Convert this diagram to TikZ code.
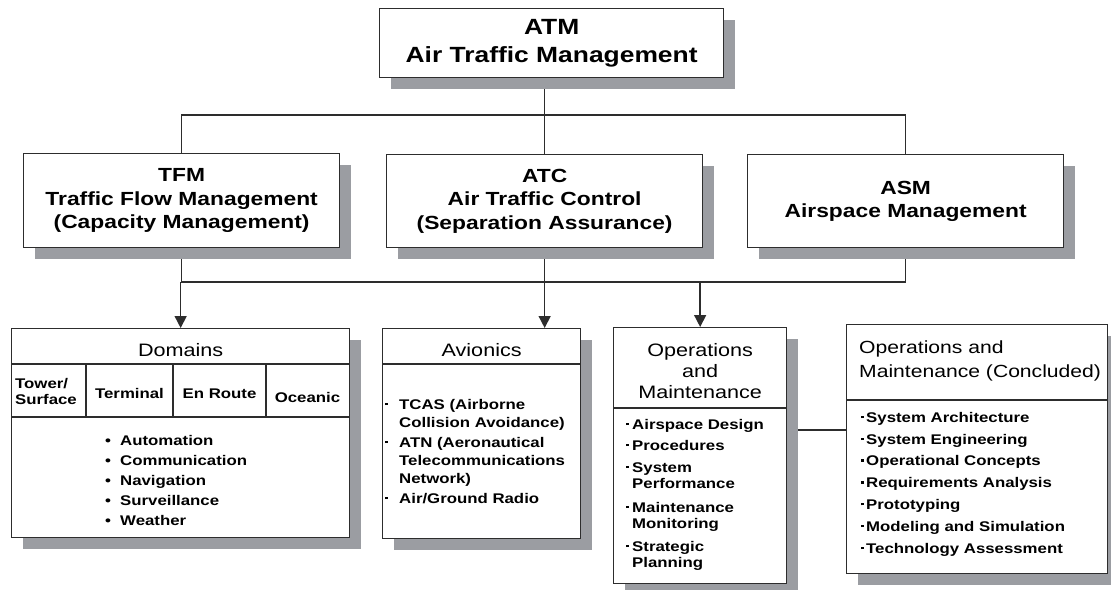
\documentclass[tikz,border=0pt]{standalone}
\usepackage{fontspec}
\setmainfont{Liberation Sans}[FakeStretch=1.2]
\usetikzlibrary{arrows.meta,shadows,backgrounds}
\definecolor{shadowgray}{RGB}{155,157,162}
\definecolor{linegray}{RGB}{45,45,45}
\newcommand{\itdot}[1]{\makebox[#1pt][l]{\rule[4pt]{2.4pt}{2.4pt}}}
\begin{document}
\begin{tikzpicture}[x=1pt, y=-1pt,
   box/.style={draw=linegray, line width=1.3pt, fill=white, inner sep=0pt, anchor=north west,
     drop shadow={shadow xshift=11pt, shadow yshift=-11pt, fill=shadowgray, opacity=1}},
   head/.style={align=center, font=\bfseries\fontsize{19}{23.5}\selectfont},
   ttl/.style={inner sep=0pt, font=\fontsize{18}{21}\selectfont},
   itm/.style={inner sep=0pt, align=left, font=\bfseries\fontsize{14}{20}\selectfont},
   link/.style={draw=linegray, line width=1.5pt},
   arr/.style={link, -{Triangle[length=12pt, width=12pt]}},
   rule/.style={draw=linegray, line width=1.3pt}]
   \useasboundingbox (0,0) rectangle (1111,589);
   \node[box, minimum width=344pt, minimum height=69pt, align=center,
     font=\bfseries\fontsize{22}{28}\selectfont] (atm) at (379,8) {ATM\\Air Traffic Management};
   \node[box, head, minimum width=316pt, minimum height=94pt] (tfm) at (23,153)
     {TFM\\Traffic Flow Management\\(Capacity Management)};
   \node[box, head, minimum width=316pt, minimum height=93pt] (atc) at (386,154)
     {ATC\\Air Traffic Control\\(Separation Assurance)};
   \node[box, head, minimum width=316pt, minimum height=93pt] (asm) at (747,154)
     {ASM\\Airspace Management};
   \node[box, minimum width=338pt, minimum height=209pt] (dom) at (11,328) {};
   \node[box, minimum width=198pt, minimum height=210pt] (avi) at (382,328) {};
   \node[box, minimum width=173pt, minimum height=256pt] (om) at (613,327) {};
   \node[box, minimum width=261pt, minimum height=249pt] (omc) at (846,324) {};
   \coordinate (top) at (0,115);
   \coordinate (bus) at (0,282);
   \begin{scope}[on background layer]
     \draw[link] (atm.south -| atc.north) -- (atc.north);
     \draw[link] (tfm.north) -- (tfm.north |- top) -- (asm.north |- top) -- (asm.north);
     \draw[link] (tfm.south) -- (tfm.south |- bus) -- (asm.south |- bus) -- (asm.south);
     \draw[arr] (atc.south) -- (atc.south |- avi.north);
     \draw[arr] (dom.north |- bus) -- (dom.north);
     \draw[arr] (om.north |- bus) -- (om.north);
     \draw[link, line width=2.5pt] (om.east |- 0,430) -- (omc.west |- 0,430);
   \end{scope}
   \draw[rule] (dom.west |- 0,364) -- (dom.east |- 0,364);
   \draw[rule] (dom.west |- 0,417) -- (dom.east |- 0,417);
   \foreach \x in {86,173,266}
     \draw[rule] (\x,364) -- (\x,417);
   \draw[rule] (avi.west |- 0,364) -- (avi.east |- 0,364);
   \draw[rule] (om.west |- 0,408) -- (om.east |- 0,408);
   \draw[rule] (omc.west |- 0,400) -- (omc.east |- 0,400);
   \node[ttl, anchor=base] at (dom.north |- 0,356) {Domains};
   \node[itm, anchor=base west, font=\bfseries\fontsize{14}{16}\selectfont] at (15,404) {Tower/\\Surface};
   \node[itm, anchor=base] at (129.5,398) {Terminal};
   \node[itm, anchor=base] at (219.5,398) {En Route};
   \node[itm, anchor=base] at (307.5,402) {Oceanic};
   \node[itm, anchor=base west] at (105,525) {\makebox[15pt][l]{\textbullet}Automation\\
     \makebox[15pt][l]{\textbullet}Communication\\\makebox[15pt][l]{\textbullet}Navigation\\
     \makebox[15pt][l]{\textbullet}Surveillance\\\makebox[15pt][l]{\textbullet}Weather};
   \node[ttl, anchor=base] at (avi.north |- 0,356) {Avionics};
   \node[itm, anchor=base west, font=\bfseries\fontsize{14}{18}\selectfont] at (385,503)
     {\itdot{14}TCAS (Airborne\\\hspace*{14pt}Collision Avoidance)\\[2pt]
      \itdot{14}ATN (Aeronautical\\\hspace*{14pt}Telecommunications\\\hspace*{14pt}Network)\\[2pt]
      \itdot{14}Air/Ground Radio};
   \node[ttl, align=center, anchor=base] at (om.north |- 0,398) {Operations\\and\\Maintenance};
   \node[itm, anchor=base west, font=\bfseries\fontsize{14}{16}\selectfont] at (626,567)
     {\itdot{6}Airspace Design\\[5pt]\itdot{6}Procedures\\[6pt]\itdot{6}System\\\hspace*{6pt}Performance\\[8pt]
      \itdot{6}Maintenance\\\hspace*{6pt}Monitoring\\[7pt]\itdot{6}Strategic\\\hspace*{6pt}Planning};
   \node[ttl, align=left, anchor=base west, font=\fontsize{17.6}{24}\selectfont] at (859,377)
     {Operations and\\Maintenance (Concluded)};
   \node[itm, anchor=base west, font=\bfseries\fontsize{14}{21.8}\selectfont] at (861,553)
     {\itdot{5}System Architecture\\\itdot{5}System Engineering\\\itdot{5}Operational Concepts\\
      \itdot{5}Requirements Analysis\\\itdot{5}Prototyping\\\itdot{5}Modeling and Simulation\\
      \itdot{5}Technology Assessment};
\end{tikzpicture}
\end{document}
